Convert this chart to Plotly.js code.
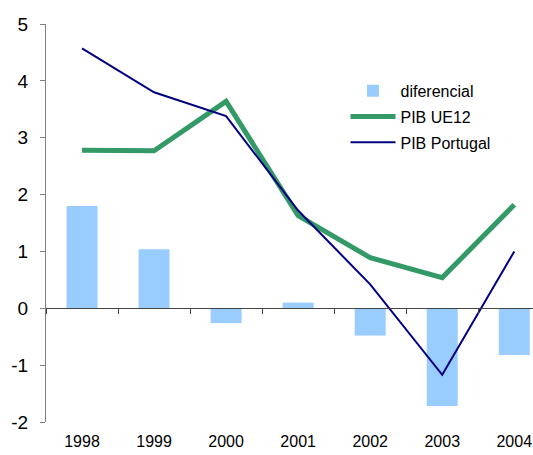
<!DOCTYPE html>
<html>
<head>
<meta charset="utf-8">
<script src="https://cdn.plot.ly/plotly-3.0.1.min.js"></script>
<style>html,body{margin:0;padding:0;background:#fff;}</style>
</head>
<body>
<div id="chart" style="width:533px;height:455px;"></div>
<script>
const years = ['1998', '1999', '2000', '2001', '2002', '2003', '2004'];
const diferencial = [1.80, 1.04, -0.26, 0.10, -0.48, -1.72, -0.82];
const pibUE12 = [2.78, 2.77, 3.64, 1.63, 0.89, 0.54, 1.82];
const pibPortugal = [4.57, 3.80, 3.38, 1.72, 0.42, -1.17, 1.00];
const yTicks = [-2, -1, 0, 1, 2, 3, 4, 5];
const yTickText = ['-2', '-1', '0', '1', '2', '3', '4', '5'];

const traces = [
  {type: 'bar', name: 'diferencial', x: years, y: diferencial, legendgroup: 'a',
   marker: {color: '#99CCFF', line: {width: 0}}, width: 0.43},
  {type: 'scatter', mode: 'lines', name: 'PIB UE12', x: years, y: pibUE12, legendgroup: 'b',
   line: {color: '#339966', width: 5}},
  {type: 'scatter', mode: 'lines', name: 'PIB Portugal', x: years, y: pibPortugal, legendgroup: 'c',
   line: {color: '#000080', width: 2}}
];

const layout = {
  width: 533, height: 455,
  margin: {l: 46, r: 0, t: 24, b: 33},
  paper_bgcolor: '#fff', plot_bgcolor: '#fff',
  font: {family: 'Liberation Sans, Arial, sans-serif', color: '#000'},
  showlegend: true,
  legend: {x: 0.615, y: 0.875, xanchor: 'left', yanchor: 'top',
           font: {size: 16, color: '#000'}, bgcolor: 'rgba(0,0,0,0)',
           traceorder: 'grouped', tracegroupgap: 2, itemwidth: 45},
  xaxis: {type: 'category', range: [-0.5, 6.26], showline: false, showgrid: false,
          zeroline: false, ticks: '', tickfont: {size: 16}, ticklabelstandoff: 8,
          fixedrange: true},
  xaxis2: {type: 'category', overlaying: 'x', anchor: 'free', position: 2 / 7,
           range: [-0.5, 6.26], showline: true, linecolor: '#444', linewidth: 1,
           ticks: 'outside', tickson: 'boundaries', ticklen: 5, tickcolor: '#444',
           showticklabels: false, showgrid: false, zeroline: false, side: 'bottom',
           categoryarray: years, categoryorder: 'array'},
  yaxis: {range: [-2, 5], tickvals: yTicks, ticktext: yTickText, showgrid: false, zeroline: false,
          showline: true, linecolor: '#808080', linewidth: 1,
          ticks: 'outside', ticklen: 5, tickcolor: '#808080',
          tickfont: {size: 19}, ticklabelstandoff: 8, fixedrange: true}
};

// invisible trace to activate xaxis2 (zero baseline with boundary ticks)
traces.push({type: 'scatter', mode: 'none', x: years, y: years.map(() => null),
             xaxis: 'x2', showlegend: false, hoverinfo: 'skip'});

Plotly.newPlot('chart', traces, layout, {displayModeBar: false, staticPlot: true});
</script>
</body>
</html>
